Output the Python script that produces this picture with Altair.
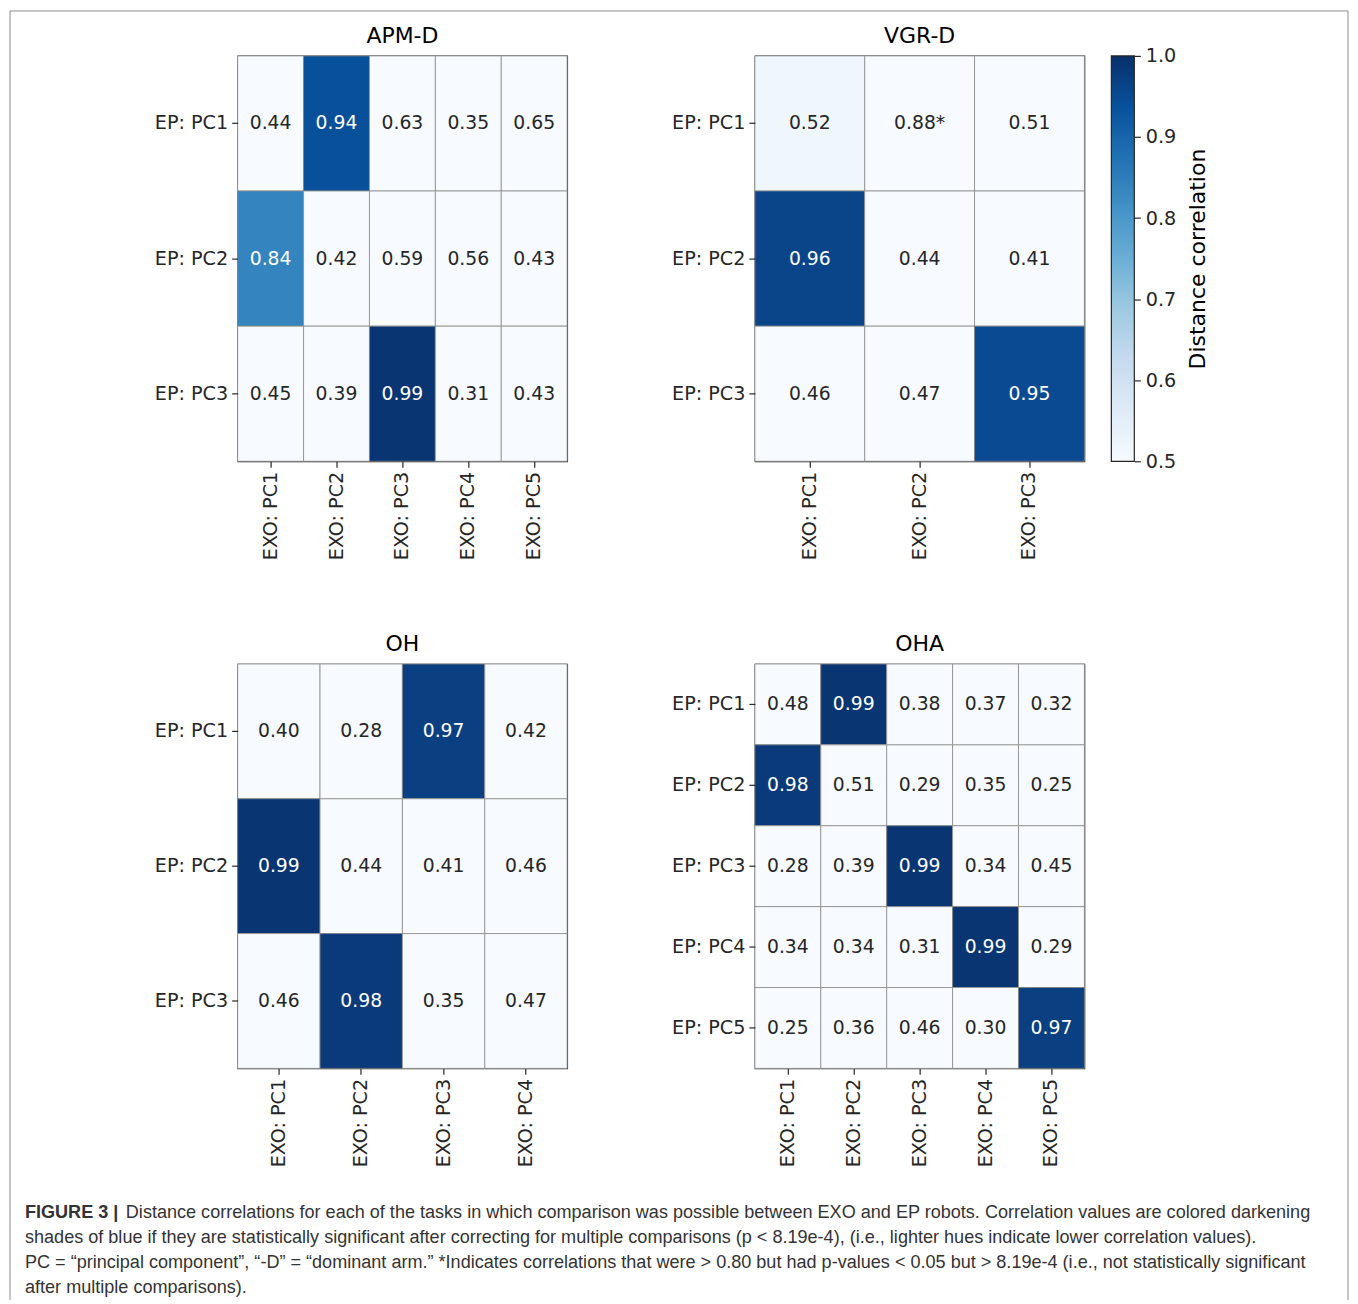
import altair as alt
import pandas as pd

# ---------------- data ----------------
apm_rows = ["EP: PC1", "EP: PC2", "EP: PC3"]
apm_cols = ["EXO: PC1", "EXO: PC2", "EXO: PC3", "EXO: PC4", "EXO: PC5"]
apm_values = [
    [0.44, 0.94, 0.63, 0.35, 0.65],
    [0.84, 0.42, 0.59, 0.56, 0.43],
    [0.45, 0.39, 0.99, 0.31, 0.43],
]
apm_significant = [
    [0, 1, 0, 0, 0],
    [1, 0, 0, 0, 0],
    [0, 0, 1, 0, 0],
]
apm_starred = []

vgr_rows = ["EP: PC1", "EP: PC2", "EP: PC3"]
vgr_cols = ["EXO: PC1", "EXO: PC2", "EXO: PC3"]
vgr_values = [
    [0.52, 0.88, 0.51],
    [0.96, 0.44, 0.41],
    [0.46, 0.47, 0.95],
]
vgr_significant = [
    [1, 0, 0],
    [1, 0, 0],
    [0, 0, 1],
]
vgr_starred = [(0, 1)]

oh_rows = ["EP: PC1", "EP: PC2", "EP: PC3"]
oh_cols = ["EXO: PC1", "EXO: PC2", "EXO: PC3", "EXO: PC4"]
oh_values = [
    [0.40, 0.28, 0.97, 0.42],
    [0.99, 0.44, 0.41, 0.46],
    [0.46, 0.98, 0.35, 0.47],
]
oh_significant = [
    [0, 0, 1, 0],
    [1, 0, 0, 0],
    [0, 1, 0, 0],
]
oh_starred = []

oha_rows = ["EP: PC1", "EP: PC2", "EP: PC3", "EP: PC4", "EP: PC5"]
oha_cols = ["EXO: PC1", "EXO: PC2", "EXO: PC3", "EXO: PC4", "EXO: PC5"]
oha_values = [
    [0.48, 0.99, 0.38, 0.37, 0.32],
    [0.98, 0.51, 0.29, 0.35, 0.25],
    [0.28, 0.39, 0.99, 0.34, 0.45],
    [0.34, 0.34, 0.31, 0.99, 0.29],
    [0.25, 0.36, 0.46, 0.30, 0.97],
]
oha_significant = [
    [0, 1, 0, 0, 0],
    [1, 0, 0, 0, 0],
    [0, 0, 1, 0, 0],
    [0, 0, 0, 1, 0],
    [0, 0, 0, 0, 1],
]
oha_starred = []

cb_min, cb_max = 0.5, 1.0
cb_ticks = [0.5, 0.6, 0.7, 0.8, 0.9, 1.0]

caption_bold = "FIGURE 3 |"
caption_lines = [
    "Distance correlations for each of the tasks in which comparison was possible between EXO and EP robots. Correlation values are colored darkening",
    "shades of blue if they are statistically significant after correcting for multiple comparisons (p < 8.19e-4), (i.e., lighter hues indicate lower correlation values).",
    "PC = \u201cprincipal component\u201d, \u201c-D\u201d = \u201cdominant arm.\u201d *Indicates correlations that were > 0.80 but had p-values < 0.05 but > 8.19e-4 (i.e., not statistically significant",
    "after multiple comparisons).",
]

# ---------------- style ----------------
FONT = "DejaVu Sans"
CAP_FONT = "Liberation Sans"
CAP_SIZE = 18.1
BLUES = ["#f7fbff", "#deebf7", "#c6dbef", "#9ecae1", "#6baed6",
         "#4292c6", "#2171b5", "#08519c", "#08306b"]
STOPS = [0.5, 0.5625, 0.625, 0.6875, 0.75, 0.8125, 0.875, 0.9375, 1.0]
DARK = "#262626"
LABEL_SIZE = 19.2
CELL_SIZE = 18.8
PANEL_W = 330

one = pd.DataFrame({"k": [0]})


def build_df(rows, cols, values, sig, starred):
    recs = []
    for i, r in enumerate(rows):
        for j, c in enumerate(cols):
            v = values[i][j]
            lab = f"{v:.2f}" + ("*" if (i, j) in starred else "")
            recs.append({"ep": r, "exo": c, "value": v, "label": lab,
                         "shade": v if sig[i][j] else cb_min})
    return pd.DataFrame(recs)


def heatmap_layers(df, rows, cols, title):
    x = alt.X("exo:N", sort=cols, title=None,
              scale=alt.Scale(paddingInner=0, paddingOuter=0),
              axis=alt.Axis(labelAngle=270))
    y = alt.Y("ep:N", sort=rows, title=None,
              scale=alt.Scale(paddingInner=0, paddingOuter=0))
    rect = alt.Chart(df).mark_rect(stroke="#8a8a8a", strokeWidth=0.8).encode(
        x=x, y=y,
        color=alt.Color("shade:Q",
                        scale=alt.Scale(domain=STOPS, range=BLUES, clamp=True),
                        legend=None),
    )
    text = alt.Chart(df).mark_text(font=FONT, fontSize=CELL_SIZE).encode(
        x=x, y=y, text="label:N",
        color=alt.condition("datum.shade > 0.75", alt.value("white"), alt.value(DARK)),
    )
    ttl = alt.Chart(one).mark_text(font=FONT, fontSize=22, color="black", align="center",
                                   baseline="alphabetic", text=title).encode(
        x=alt.value(PANEL_W / 2), y=alt.value(-13))
    return [rect, text, ttl]


def finish(chart, w, h):
    return chart.properties(
        width=w, height=h,
        view=alt.ViewBackground(stroke=DARK, strokeWidth=1.2),
    )


# APM-D
apm = finish(alt.layer(*heatmap_layers(
    build_df(apm_rows, apm_cols, apm_values, apm_significant, apm_starred),
    apm_rows, apm_cols, "APM-D")), PANEL_W, 406)

# VGR-D with colour bar to its right
cb_df = pd.DataFrame({"lo": [cb_min], "hi": [cb_max]})
grad = alt.LinearGradient(
    gradient="linear",
    stops=[alt.GradientStop(color=c, offset=i / (len(BLUES) - 1)) for i, c in enumerate(BLUES)],
    x1=0, x2=0, y1=1, y2=0,
)
colorbar = alt.Chart(cb_df).mark_rect(fill=grad, stroke=DARK, strokeWidth=1.2).encode(
    x=alt.value(357), x2=alt.value(380),
    y=alt.Y("lo:Q", scale=alt.Scale(domain=[cb_min, cb_max], nice=False, zero=False),
            axis=alt.Axis(orient="right", offset=50, values=cb_ticks, format=".1f",
                          title="Distance correlation", titleAngle=270, titleBaseline="top",
                          titleFont=FONT, titleFontSize=22, titleFontWeight="normal",
                          titleColor="black", titlePadding=12, labelPadding=5)),
    y2="hi:Q",
)
vgr_inner = alt.layer(*heatmap_layers(
    build_df(vgr_rows, vgr_cols, vgr_values, vgr_significant, vgr_starred),
    vgr_rows, vgr_cols, "VGR-D"))
vgr = finish(alt.layer(vgr_inner, colorbar).resolve_scale(y="independent"), PANEL_W, 406)

# OH with the caption and the figure frame drawn around it
cap = alt.Chart(one)
FRAME = "#8c8c8c"
cap_layers = [
    cap.mark_rule(color=FRAME, strokeWidth=1).encode(
        x=alt.value(-228), y=alt.value(-654), y2=alt.value(637)),
    cap.mark_rule(color=FRAME, strokeWidth=1).encode(
        x=alt.value(-228), x2=alt.value(1112), y=alt.value(-654)),
    cap.mark_rule(color=FRAME, strokeWidth=1).encode(
        x=alt.value(1112), y=alt.value(-654), y2=alt.value(637)),
    cap.mark_text(align="left", baseline="middle", font=CAP_FONT, fontSize=CAP_SIZE,
                  fontWeight="bold", color="#333333", text=caption_bold).encode(
        x=alt.value(-213), y=alt.value(550)),
]
cap_pos = [(-112, 550), (-213, 575), (-213, 600), (-213, 625)]
for (cx, cy), line in zip(cap_pos, caption_lines):
    cap_layers.append(cap.mark_text(align="left", baseline="middle", font=CAP_FONT,
                                    fontSize=CAP_SIZE, color="#333333", text=line).encode(
        x=alt.value(cx), y=alt.value(cy)))

oh = finish(alt.layer(*heatmap_layers(
    build_df(oh_rows, oh_cols, oh_values, oh_significant, oh_starred),
    oh_rows, oh_cols, "OH"), *cap_layers), PANEL_W, 405)

oha = finish(alt.layer(*heatmap_layers(
    build_df(oha_rows, oha_cols, oha_values, oha_significant, oha_starred),
    oha_rows, oha_cols, "OHA")), PANEL_W, 405)

chart = alt.concat(apm, vgr, oh, oha, columns=2,
                   spacing={"row": 203, "column": 188}, bounds="flush").properties(
    padding={"left": 0, "top": 0, "right": 0, "bottom": 0},
    background="white",
).configure_view(stroke=None).configure_axis(
    domain=False, grid=False, labelFont=FONT, labelFontSize=LABEL_SIZE, labelColor=DARK,
    tickColor=DARK, tickSize=6, tickWidth=1.2, labelPadding=4,
)

chart.save("out.html", embed_options={"renderer": "svg", "actions": False})
